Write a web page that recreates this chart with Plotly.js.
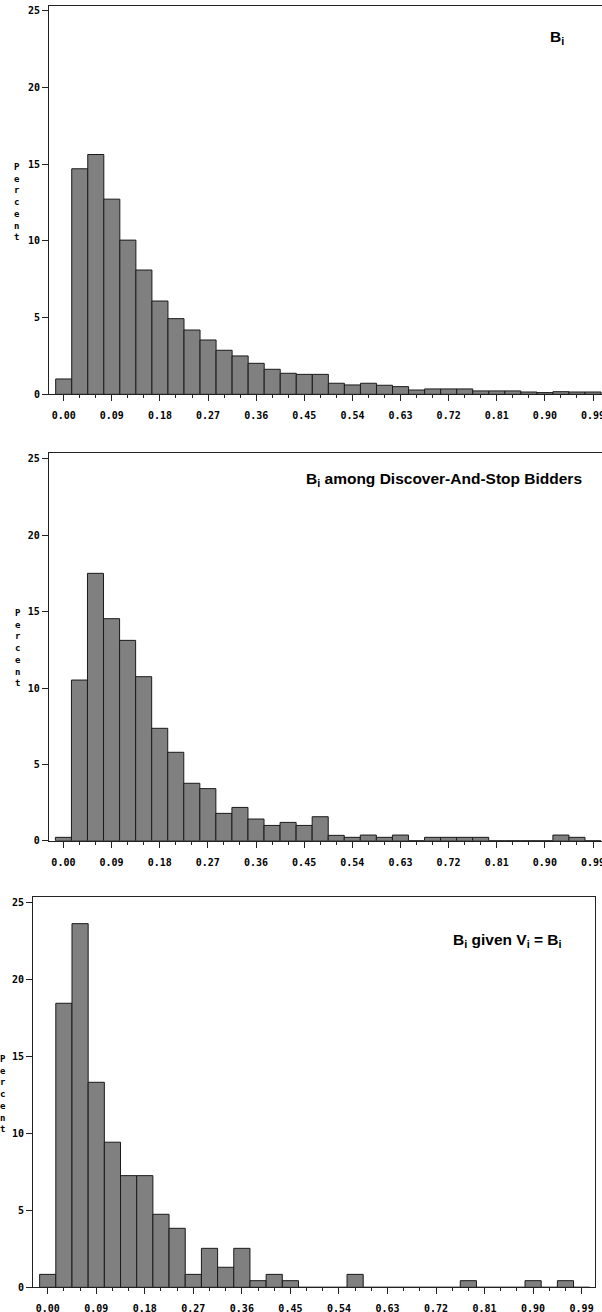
<!DOCTYPE html>
<html>
<head>
<meta charset="utf-8">
<script src="https://cdn.plot.ly/plotly-3.0.1.min.js"></script>
<style>
html,body{margin:0;padding:0;overflow:hidden;background:#fff;}
#chart{width:612px;height:1312px;}
</style>
</head>
<body>
<div id="chart"></div>
<script>
// Bin centres (bin width 0.03)
const binCenters = [0.00,0.03,0.06,0.09,0.12,0.15,0.18,0.21,0.24,0.27,0.30,0.33,0.36,0.39,0.42,0.45,0.48,0.51,0.54,0.57,0.60,0.63,0.66,0.69,0.72,0.75,0.78,0.81,0.84,0.87,0.90,0.93,0.96,0.99];

// Percent per bin, panel 1: B_i
const pctAll = [1.0,14.7,15.63,12.72,10.05,8.1,6.08,4.93,4.19,3.54,2.87,2.5,2.02,1.63,1.37,1.3,1.3,0.72,0.61,0.72,0.59,0.5,0.28,0.35,0.35,0.35,0.22,0.22,0.22,0.15,0.11,0.17,0.15,0.15];

// Panel 2: B_i among Discover-And-Stop Bidders
const pctDiscover = [0.22,10.52,17.51,14.54,13.12,10.74,7.36,5.79,3.76,3.41,1.79,2.18,1.42,1.0,1.2,1.0,1.57,0.35,0.22,0.37,0.22,0.37,0,0.22,0.22,0.22,0.22,0,0,0,0,0.37,0.22,0];

// Panel 3: B_i given V_i = B_i
const pctGiven = [0.84,18.44,23.61,13.31,9.42,7.25,7.25,4.74,3.83,0.84,2.53,1.3,2.53,0.43,0.84,0.43,0,0,0,0.84,0,0,0,0,0,0,0.43,0,0,0,0.43,0,0.43,0];

const panelTitles = ["B<sub>i</sub>", "B<sub>i</sub> among Discover-And-Stop Bidders", "B<sub>i</sub> given V<sub>i</sub> = B<sub>i</sub>"];
const yTicks = [0,5,10,15,20,25];
const yLabel = "P<br>e<br>r<br>c<br>e<br>n<br>t";

const W = 612, H = 1312;
const fx = px => px / W;
const fy = py => 1 - py / H;

const series = [pctAll, pctDiscover, pctGiven];

// geometry (pixels)
const geo = [
  {l:49, r:606.5, top:6,   bot:394.3, xr:[-0.0275,1.0152], ytop:25.31, lblX:17, lblY:202, tX:557, tY:37},
  {l:48.7, r:606.5, top:453, bot:840.7, xr:[-0.0275,1.0152], ytop:25.39, lblX:18, lblY:648, tX:443.5, tY:479},
  {l:33, r:595, top:897, bot:1287.3, xr:[-0.0273,1.0148], ytop:25.34, lblX:3, lblY:1094, tX:507, tY:940}
];

const tickFont = {family:"DejaVu Sans Mono", size:10, color:"#000", weight:"bold"};
const lineCol = "#222";

const traces = series.map((vals, i) => ({
  type:"bar",
  x: binCenters,
  y: vals,
  width: 0.03,
  xaxis: i === 0 ? "x" : "x" + (i+1),
  yaxis: i === 0 ? "y" : "y" + (i+1),
  marker:{color:"#808080", line:{color:"#1a1a1a", width:1}},
  hoverinfo:"x+y",
  showlegend:false
}));

const layout = {
  width: W, height: H,
  margin:{l:0, r:0, t:0, b:0},
  paper_bgcolor:"#fff", plot_bgcolor:"#fff",
  bargap:0,
  showlegend:false,
  annotations:[]
};

geo.forEach((g, i) => {
  const xk = i === 0 ? "xaxis" : "xaxis" + (i+1);
  const yk = i === 0 ? "yaxis" : "yaxis" + (i+1);
  const ya = i === 0 ? "y" : "y" + (i+1);
  const xa = i === 0 ? "x" : "x" + (i+1);
  layout[xk] = {
    domain:[fx(g.l), fx(g.r)],
    anchor: ya,
    range: g.xr,
    tickmode:"linear", tick0:0, dtick:0.09, tickformat:".2f",
    ticks:"outside", ticklen:6, tickwidth:1, tickcolor:lineCol,
    minor:{tickmode:"linear", tick0:0, dtick:0.03, ticks:"outside", ticklen:3, tickwidth:1, tickcolor:lineCol, showgrid:false},
    showline:true, mirror:true, linecolor:lineCol, linewidth:1,
    showgrid:false, zeroline:false,
    tickfont: tickFont,
    ticklabelstandoff: 6,
    fixedrange:true
  };
  layout[yk] = {
    domain:[fy(g.bot), fy(g.top)],
    anchor: xa,
    range:[0, g.ytop],
    tickmode:"array", tickvals:yTicks, ticktext:yTicks.map(String),
    ticks:"outside", ticklen:6, tickwidth:1, tickcolor:lineCol,
    showline:true, mirror:true, linecolor:lineCol, linewidth:1,
    showgrid:false, zeroline:false,
    tickfont: tickFont,
    fixedrange:true
  };
  layout.annotations.push({
    xref:"paper", yref:"paper", x:fx(g.lblX), y:fy(g.lblY),
    xanchor:"center", yanchor:"middle", showarrow:false,
    text:yLabel, align:"center",
    font:{family:"DejaVu Sans Mono", size:9, color:"#000", weight:"bold"}
  });
  layout.annotations.push({
    xref:"paper", yref:"paper", x:fx(g.tX), y:fy(g.tY),
    xanchor:"center", yanchor:"middle", showarrow:false,
    text:panelTitles[i],
    font:{family:"Liberation Sans, Arial, sans-serif", size:15.5, color:"#000", weight:"bold"}
  });
});

Plotly.newPlot("chart", traces, layout, {displayModeBar:false, staticPlot:true});
</script>
</body>
</html>
